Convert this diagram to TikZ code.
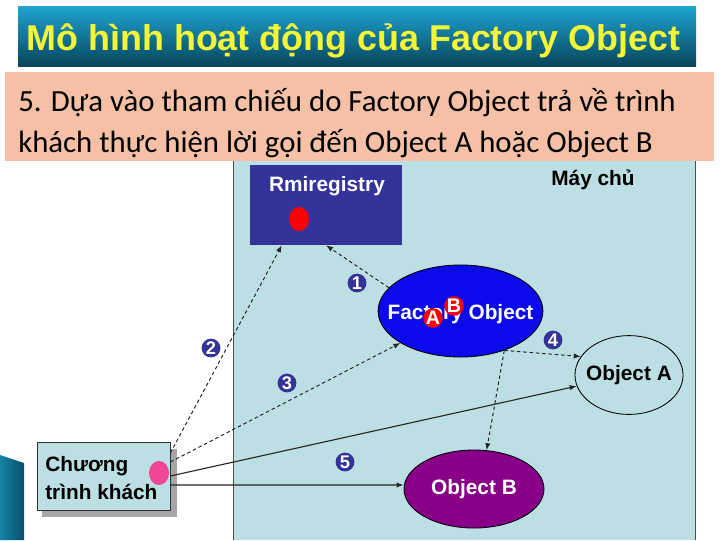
\documentclass[tikz,border=0pt]{standalone}
\usepackage{fontspec}
\setmainfont{Liberation Sans}
\newfontfamily\notefont{Carlito}
\definecolor{panel}{RGB}{188, 223, 227}
\definecolor{regblue}{RGB}{51, 51, 153}
\definecolor{facblue}{RGB}{10, 10, 235}
\definecolor{objpurple}{RGB}{136, 0, 136}
\definecolor{salmon}{RGB}{245, 192, 166}
\definecolor{titletop}{RGB}{30, 165, 210}
\definecolor{titlemid}{RGB}{14, 122, 156}
\definecolor{titlebot}{RGB}{8, 70, 92}
\definecolor{titletext}{RGB}{245, 245, 55}
\definecolor{pinkdot}{RGB}{240, 70, 150}
\definecolor{decoleft}{RGB}{20, 130, 165}
\definecolor{decoright}{RGB}{10, 80, 110}
\usetikzlibrary{shapes.geometric, arrows.meta, calc}

\begin{document}
\begin{tikzpicture}[x=0.025cm, y=-0.025cm,
        lbl/.style={font=\fontsize{14.8}{20}\selectfont\bfseries},
        obj/.style={ellipse, draw=black, line width=0.6pt, inner sep=0pt},
        badge/.style={circle, fill=regblue, text=white, inner sep=0pt, minimum size=0.47cm, font=\fontsize{13}{13}\selectfont\bfseries},
        letter/.style={circle, fill=red, text=white, inner sep=0pt, minimum size=0.46cm, font=\fontsize{14}{14}\selectfont\bfseries},
        arr/.style={-{Latex[length=5pt, width=3.8pt]}, line width=0.8pt, black!85},
        darr/.style={arr, line width=0.7pt, dash pattern=on 2.5pt off 2pt}
    ]
    \useasboundingbox (0,0) rectangle (720,540);
    \fill[white] (0,0) rectangle (720,540);

    % title and note
    \shade[top color=titletop, middle color=titlemid, bottom color=titlebot] (18,6) rectangle (696,66);
    \node[anchor=base, text=titletext, font=\fontsize{25.5}{30}\selectfont\bfseries] (title) at (353.5,50) {Mô hình hoạt động của Factory Object};

    \fill[panel] (233,150) rectangle (695,540);
    \draw[black!70, line width=0.6pt] (233,540) -- (233,150) -- (695,150) -- (695,540);

    \fill[salmon] (5,72) rectangle (714,161);
    \node[anchor=base west, inner sep=0pt, font=\notefont\fontsize{21.9}{30}\selectfont] (note1) at (18,111) {5. Dựa vào tham chiếu do Factory Object trả về trình};
    \node[anchor=base west, inner sep=0pt, font=\notefont\fontsize{21.9}{30}\selectfont] (note2) at (18,152) {khách thực hiện lời gọi đến Object A hoặc Object B};

    \shade[left color=decoleft, right color=decoright] (0,455) -- (24,463) -- (24,540) -- (0,540) -- cycle;

    % server side
    \node[rectangle, fill=regblue, inner sep=0pt, minimum width=3.8cm, minimum height=2cm] (reg) at (326,205) {};
    \node[lbl, text=white] (regname) at (327,186) {Rmiregistry};
    \node[ellipse, fill=red, inner sep=0pt, minimum width=0.5cm, minimum height=0.6cm] (regdot) at (299,219) {};
    \node[lbl] (server) at (593,180) {Máy chủ};

    \node[obj, fill=facblue, minimum width=4.12cm, minimum height=2.3cm,
        label={[lbl, text=white, yshift=-2pt]center:Factory Object}] (fac) at (460.5,311) {};
    \node[letter] (la) at (433,318) {A};
    \node[letter] (lb) at (454,306) {B};

    \node[obj, fill=panel, minimum width=2.7cm, minimum height=1.97cm,
        label={[lbl]center:Object A}] (obja) at (629,375) {};
    \node[obj, fill=objpurple, minimum width=3.5cm, minimum height=1.95cm,
        label={[lbl, text=white]center:Object B}] (objb) at (474,489) {};

    % client
    \fill[black!35] (42,449) rectangle (177,517);
    \node[rectangle, draw=black!80, line width=0.5pt, fill=panel, inner sep=0pt, minimum width=3.325cm, minimum height=1.7cm] (client) at (103.5,476) {};
    \node[lbl, align=left, anchor=west, inner sep=0pt] (clientname) at (45,478) {Chương\\trình khách};
    \node[ellipse, fill=pinkdot, inner sep=0pt, minimum width=0.5cm, minimum height=0.6cm] (cdot) at (159,473) {};

    % connectors
    \draw[darr] (fac.162) -- (reg.south);
    \draw[darr] ([yshift=0.575cm]client.east) -- ($(reg.south west)!0.21!(reg.south east)$);
    \draw[darr] ([yshift=0.35cm]client.east) -- (fac.208);
    \draw[darr] (fac.-42) -- (obja.159);
    \draw[darr] (fac.-42) -- (objb.72);
    \draw[arr] (client.east) -- (obja.192);
    \draw[arr] ([yshift=-0.225cm]client.east) -- ([yshift=0.1cm]objb.west);

    \node[badge] (n1) at (357,283) {1};
    \node[badge] (n2) at (211,348) {2};
    \node[badge] (n3) at (287,383) {3};
    \node[badge] (n4) at (553,340) {4};
    \node[badge] (n5) at (345,462) {5};
\end{tikzpicture}
\end{document}
